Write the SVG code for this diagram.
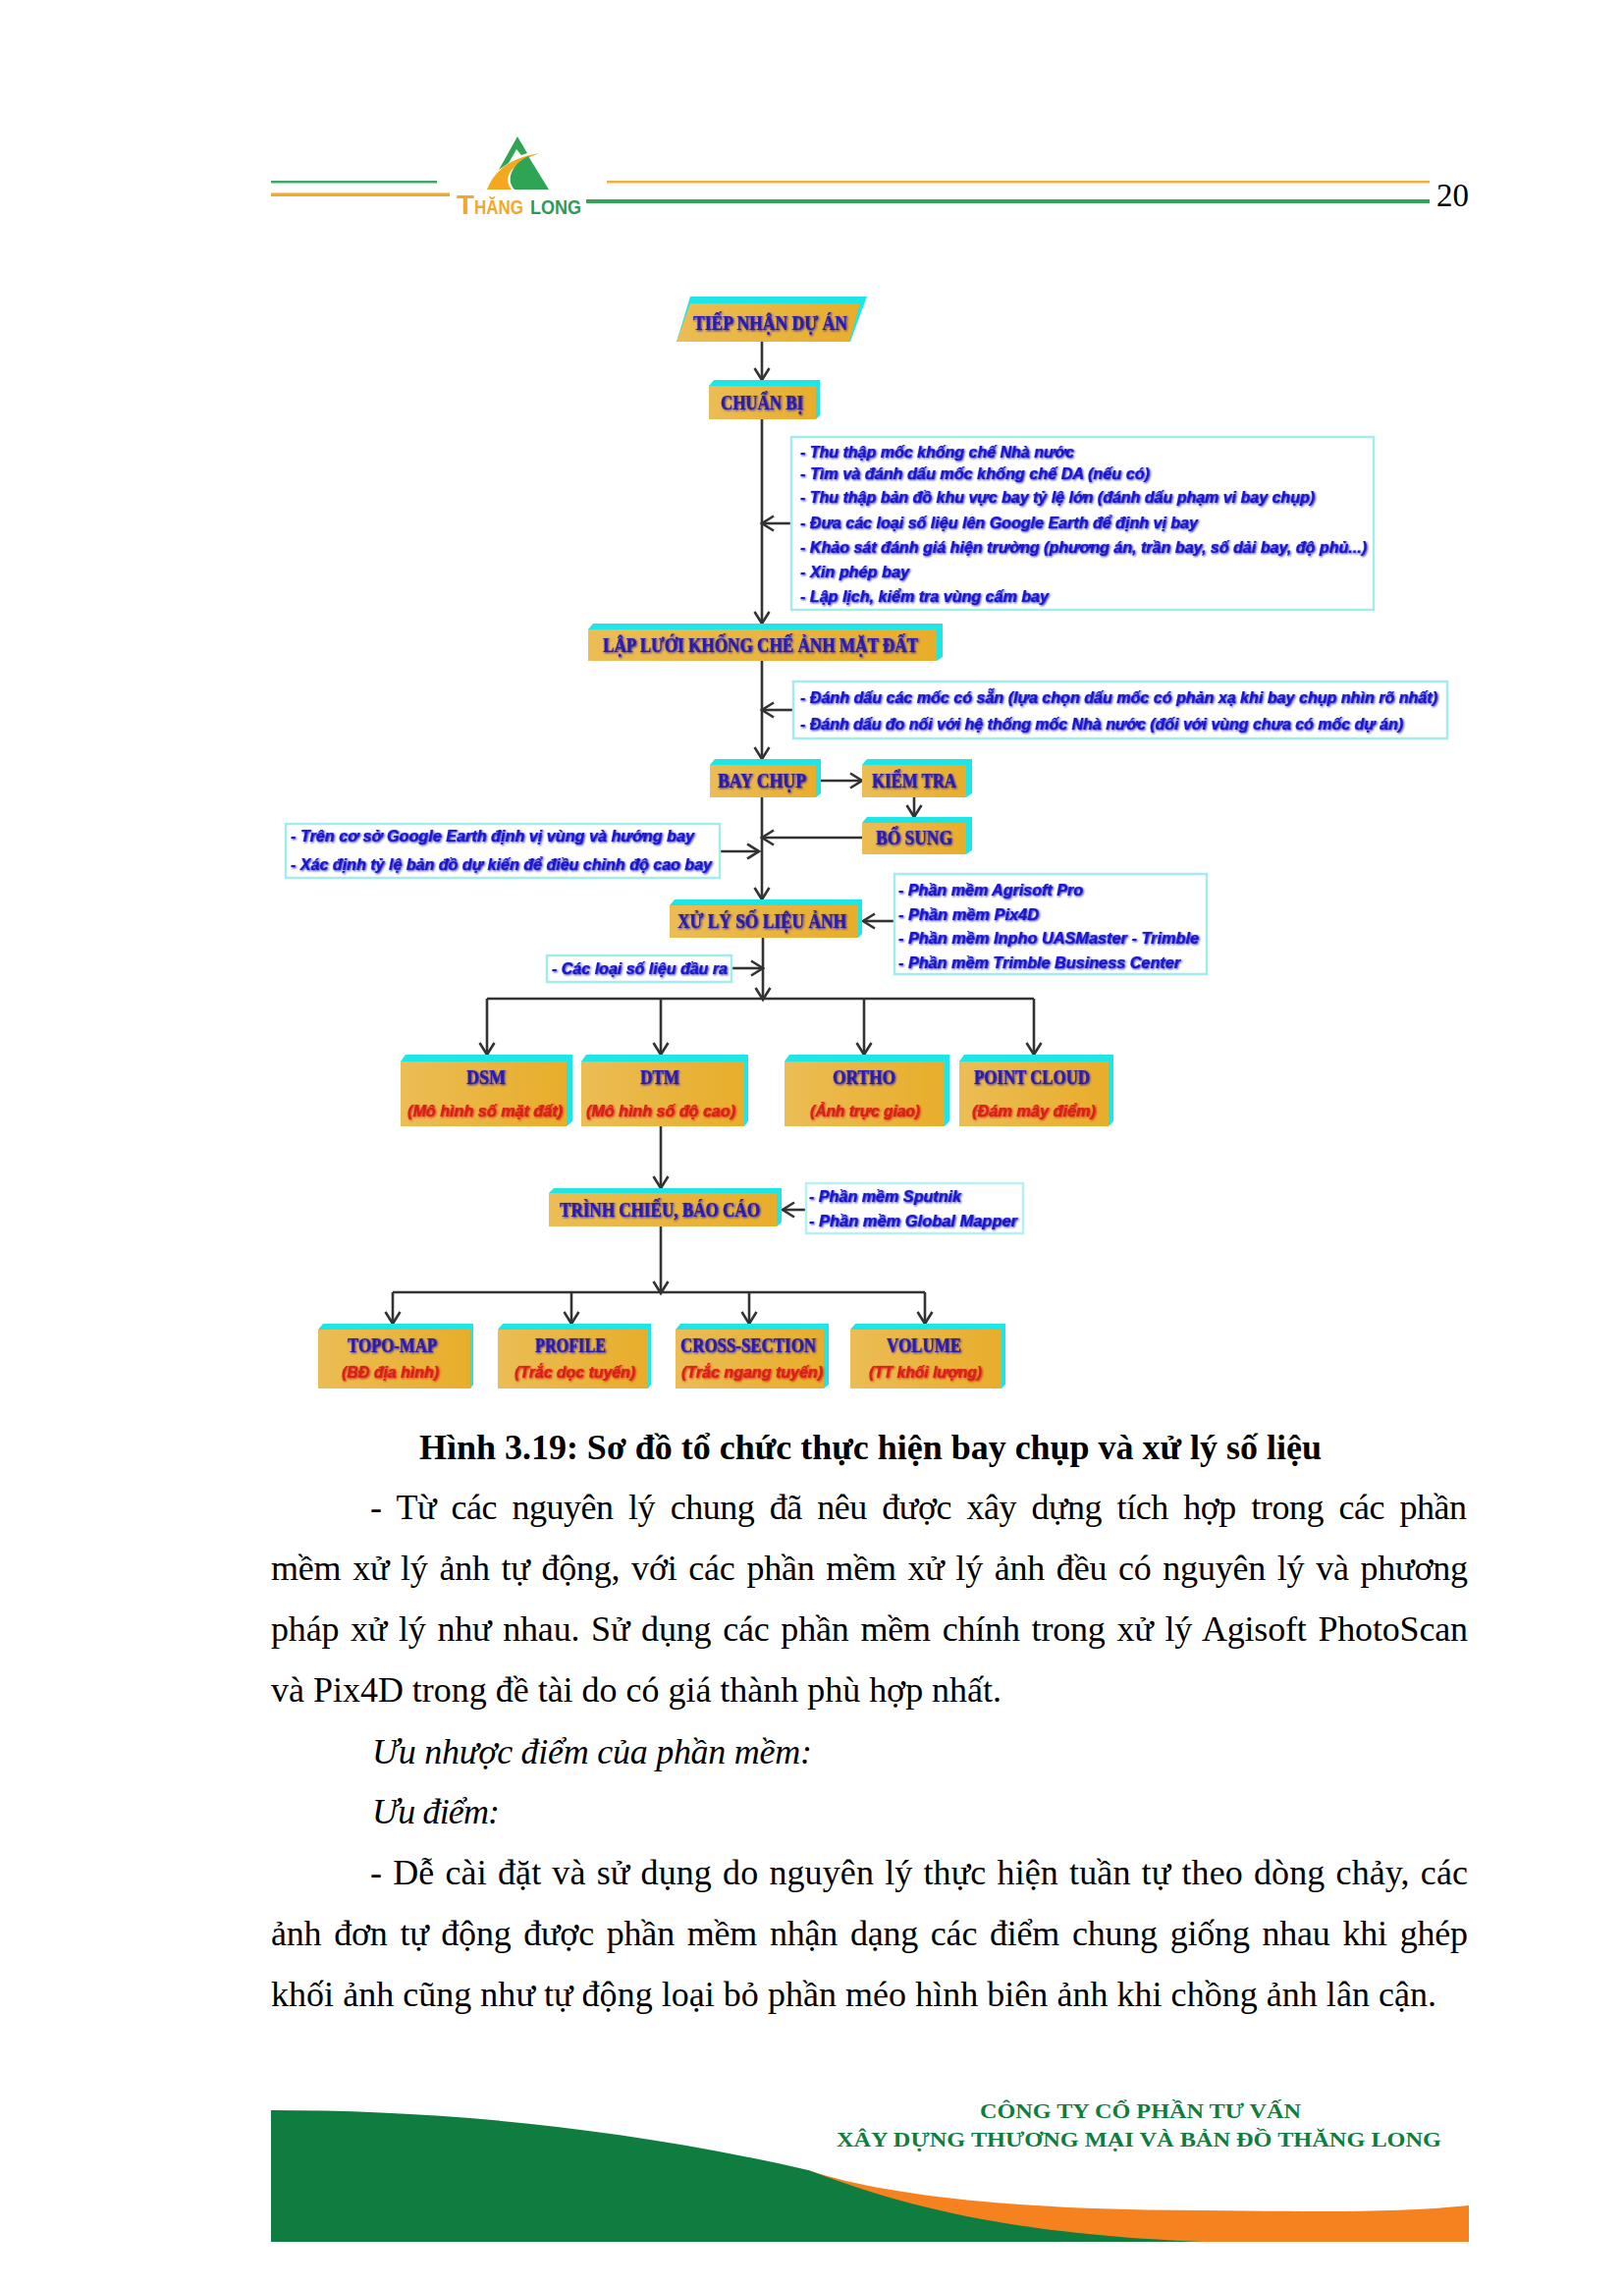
<svg xmlns="http://www.w3.org/2000/svg" width="1654" height="2328" viewBox="0 0 1654 2328">
<defs>
<style>
.c{fill:#1fe6e6}
.n{fill:url(#gold)}
.b{fill:#fff;stroke:#a4ecec;stroke-width:2.5}
.t{font:bold 21px "Liberation Serif",serif;fill:#2a1cb0;stroke:#2a1cb0;stroke-width:.2;filter:url(#soft)}
.r{font:italic bold 16.5px "Liberation Sans",sans-serif;fill:#d8201c;stroke:#d8201c;stroke-width:.2;filter:url(#soft)}
.l{font:italic bold 16.5px "Liberation Sans",sans-serif;fill:#1a18c8;stroke:#1a18c8;stroke-width:.2;filter:url(#soft)}
.k path,.k line{fill:none;stroke:#333;stroke-width:2.6}
.a{marker-end:url(#arr)}
.p{font:36px "Liberation Serif",serif;fill:#000}
.pb{font:bold 36px "Liberation Serif",serif;fill:#000}
.pi{font:italic 36px "Liberation Serif",serif;fill:#000}
.f{font:bold 22px "Liberation Serif",serif;fill:#0f7d3f}
.g{font:bold 20px "Liberation Sans",sans-serif}
</style>
<linearGradient id="gold" x1="0" x2="1" y1="0" y2="0"><stop offset="0" stop-color="#ebbd55"/><stop offset="1" stop-color="#e8ad2a"/></linearGradient>
<filter id="soft" x="-5%" y="-30%" width="110%" height="160%"><feGaussianBlur in="SourceGraphic" stdDeviation="1" result="s"/><feOffset in="s" dx="1" dy="1" result="o"/><feGaussianBlur in="SourceGraphic" stdDeviation="0.5" result="m"/><feMerge><feMergeNode in="o"/><feMergeNode in="m"/></feMerge></filter>
<marker id="arr" markerUnits="userSpaceOnUse" markerWidth="24" markerHeight="24" refX="17" refY="11" orient="auto" overflow="visible"><path d="M5,3.5 L17,11 L5,18.5" fill="none" stroke="#333" stroke-width="2.6"/></marker>
</defs>
<rect width="1654" height="2328" fill="#fff"/>

<g id="header">
<rect x="276" y="184" width="169" height="2.5" fill="#3fa868"/>
<rect x="276" y="196.5" width="182" height="3.5" fill="#efa92b"/>
<rect x="618" y="184" width="838" height="2.5" fill="#efb040"/>
<rect x="597" y="203" width="859" height="4" fill="#2fa455"/>
<path d="M527,139 L537,156 L531,158 L526,152 L518,166 L508,173 Z" fill="#2fa455"/>
<path d="M549,156 C525,160 505,170 496,193 L521,193 C512,182 518,168 549,156 Z" fill="#f2a91f"/>
<path d="M538,159 L559,193 L524,193 C515,184 520,168 538,159 Z" fill="#2fa455"/>
<text class="g" x="465" y="218" style="font-size:28px" fill="#efa92b" textLength="18" lengthAdjust="spacingAndGlyphs">T</text>
<text class="g" x="483" y="218" fill="#efa92b" textLength="50" lengthAdjust="spacingAndGlyphs">HĂNG</text>
<text class="g" x="540" y="218" fill="#2f9a58" textLength="52" lengthAdjust="spacingAndGlyphs">LONG</text>
<text x="1463" y="210" font-family="Liberation Serif,serif" font-size="33" fill="#000" textLength="33">20</text>
</g>

<g id="connectors" class="k">
<line x1="776" y1="348" x2="776" y2="387" class="a"/>
<line x1="776" y1="427" x2="776" y2="635" class="a"/>
<line x1="805" y1="533" x2="776" y2="533" class="a"/>
<line x1="776" y1="673" x2="776" y2="773" class="a"/>
<line x1="807" y1="723" x2="776" y2="723" class="a"/>
<line x1="836" y1="795" x2="878" y2="795" class="a"/>
<line x1="931" y1="812" x2="931" y2="832" class="a"/>
<line x1="878" y1="853" x2="776" y2="853" class="a"/>
<line x1="776" y1="812" x2="776" y2="916" class="a"/>
<line x1="733" y1="867" x2="773" y2="867" class="a"/>
<line x1="911" y1="938" x2="879" y2="938" class="a"/>
<line x1="777" y1="955" x2="777" y2="1018" class="a"/>
<line x1="745" y1="986" x2="777" y2="986" class="a"/>
<path d="M496,1017 H1053"/>
<line x1="496" y1="1017" x2="496" y2="1074" class="a"/>
<line x1="673" y1="1017" x2="673" y2="1074" class="a"/>
<line x1="880" y1="1017" x2="880" y2="1074" class="a"/>
<line x1="1053" y1="1017" x2="1053" y2="1074" class="a"/>
<line x1="673" y1="1147" x2="673" y2="1210" class="a"/>
<line x1="820" y1="1232" x2="797" y2="1232" class="a"/>
<line x1="673" y1="1249" x2="673" y2="1317" class="a"/>
<path d="M400,1316 H942"/>
<line x1="400" y1="1316" x2="400" y2="1348" class="a"/>
<line x1="582" y1="1316" x2="582" y2="1348" class="a"/>
<line x1="763" y1="1316" x2="763" y2="1348" class="a"/>
<line x1="942" y1="1316" x2="942" y2="1348" class="a"/>
</g>

<g id="n-tiep-nhan"><path class="c" d="M689,348 L703,302 H883 L866,348 Z"/><path class="n" d="M689,348 L703,309 H876 L865,348 Z"/><text class="t" x="706" y="336" textLength="157" lengthAdjust="spacingAndGlyphs">TIẾP NHẬN DỰ ÁN</text></g>
<g id="n-chuan-bi"><path class="c" d="M722,393 L727,387 H835 V423 L831,427 H722 Z"/><rect class="n" x="722" y="393" width="109" height="34"/><text class="t" x="734" y="417" textLength="84" lengthAdjust="spacingAndGlyphs">CHUẨN BỊ</text></g>
<g id="n-lap-luoi"><path class="c" d="M599,641 L604,635 H960 V669 L954,673 H599 Z"/><rect class="n" x="599" y="641" width="355" height="32"/><text class="t" x="614" y="664" textLength="321" lengthAdjust="spacingAndGlyphs">LẬP LƯỚI KHỐNG CHẾ ẢNH MẶT ĐẤT</text></g>
<g id="n-bay-chup"><path class="c" d="M723,779 L728,773 H836 V808 L831,812 H723 Z"/><rect class="n" x="723" y="779" width="108" height="33"/><text class="t" x="731" y="802" textLength="90" lengthAdjust="spacingAndGlyphs">BAY CHỤP</text></g>
<g id="n-kiem-tra"><path class="c" d="M878,779 L883,773 H990 V808 L984,812 H878 Z"/><rect class="n" x="878" y="779" width="106" height="33"/><text class="t" x="888" y="802" textLength="86" lengthAdjust="spacingAndGlyphs">KIỂM TRA</text></g>
<g id="n-bo-sung"><path class="c" d="M878,838 L883,832 H990 V866 L984,870 H878 Z"/><rect class="n" x="878" y="838" width="106" height="32"/><text class="t" x="892" y="860" textLength="78" lengthAdjust="spacingAndGlyphs">BỔ SUNG</text></g>
<g id="n-xu-ly"><path class="c" d="M682,922 L687,916 H878 V951 L874,955 H682 Z"/><rect class="n" x="682" y="922" width="192" height="33"/><text class="t" x="690" y="945" textLength="172" lengthAdjust="spacingAndGlyphs">XỬ LÝ SỐ LIỆU ẢNH</text></g>

<g id="b-chuan-bi"><rect class="b" x="806" y="445" width="593" height="176"/>
<text class="l" x="815" y="466" textLength="279" lengthAdjust="spacingAndGlyphs">- Thu thập mốc khống chế Nhà nước</text>
<text class="l" x="815" y="488" textLength="356" lengthAdjust="spacingAndGlyphs">- Tìm và đánh dấu mốc khống chế DA (nếu có)</text>
<text class="l" x="815" y="512" textLength="524" lengthAdjust="spacingAndGlyphs">- Thu thập bản đồ khu vực bay tỷ lệ lớn (đánh dấu phạm vi bay chụp)</text>
<text class="l" x="815" y="538" textLength="405" lengthAdjust="spacingAndGlyphs">- Đưa các loại số liệu lên Google Earth để định vị bay</text>
<text class="l" x="815" y="563" textLength="577" lengthAdjust="spacingAndGlyphs">- Khảo sát đánh giá hiện trường (phương án, trần bay, số dải bay, độ phủ...)</text>
<text class="l" x="815" y="588" textLength="111" lengthAdjust="spacingAndGlyphs">- Xin phép bay</text>
<text class="l" x="815" y="613" textLength="253" lengthAdjust="spacingAndGlyphs">- Lập lịch, kiểm tra vùng cấm bay</text></g>
<g id="b-lap-luoi"><rect class="b" x="808" y="694" width="666" height="58"/>
<text class="l" x="815" y="716" textLength="649" lengthAdjust="spacingAndGlyphs">- Đánh dấu các mốc có sẵn (lựa chọn dấu mốc có phản xạ khi bay chụp nhìn rõ nhất)</text>
<text class="l" x="815" y="743" textLength="614" lengthAdjust="spacingAndGlyphs">- Đánh dấu đo nối với hệ thống mốc Nhà nước (đối với vùng chưa có mốc dự án)</text></g>
<g id="b-google"><rect class="b" x="291" y="839" width="442" height="55"/>
<text class="l" x="296" y="857" textLength="411" lengthAdjust="spacingAndGlyphs">- Trên cơ sở  Google Earth định vị vùng và hướng bay</text>
<text class="l" x="296" y="886" textLength="429" lengthAdjust="spacingAndGlyphs">- Xác định tỷ lệ bản đồ dự kiến để điều chỉnh độ cao bay</text></g>
<g id="b-phan-mem"><rect class="b" x="911" y="890" width="318" height="102"/>
<text class="l" x="915" y="912" textLength="188" lengthAdjust="spacingAndGlyphs">- Phần mềm Agrisoft Pro</text>
<text class="l" x="915" y="937" textLength="143" lengthAdjust="spacingAndGlyphs">- Phần mềm Pix4D</text>
<text class="l" x="915" y="961" textLength="306" lengthAdjust="spacingAndGlyphs">- Phần mềm Inpho UASMaster - Trimble</text>
<text class="l" x="915" y="986" textLength="287" lengthAdjust="spacingAndGlyphs">- Phần mềm Trimble Business Center</text></g>
<g id="b-dau-ra"><rect class="b" x="557" y="973" width="188" height="27"/><text class="l" x="562" y="992" textLength="179" lengthAdjust="spacingAndGlyphs">- Các loại số liệu đầu ra</text></g>

<g id="n-dsm"><path class="c" d="M408,1081 L413,1074 H583 V1142 L577,1147 H408 Z"/><rect class="n" x="408" y="1081" width="169" height="66"/><text class="t" x="475" y="1104" textLength="40" lengthAdjust="spacingAndGlyphs">DSM</text><text class="r" x="415" y="1137" textLength="158" lengthAdjust="spacingAndGlyphs">(Mô hình số mặt đất)</text></g>
<g id="n-dtm"><path class="c" d="M592,1081 L597,1074 H762 V1142 L758,1147 H592 Z"/><rect class="n" x="592" y="1081" width="166" height="66"/><text class="t" x="652" y="1104" textLength="40" lengthAdjust="spacingAndGlyphs">DTM</text><text class="r" x="597" y="1137" textLength="152" lengthAdjust="spacingAndGlyphs">(Mô hình số độ cao)</text></g>
<g id="n-ortho"><path class="c" d="M799,1081 L804,1074 H967 V1142 L962,1147 H799 Z"/><rect class="n" x="799" y="1081" width="163" height="66"/><text class="t" x="848" y="1104" textLength="64" lengthAdjust="spacingAndGlyphs">ORTHO</text><text class="r" x="825" y="1137" textLength="112" lengthAdjust="spacingAndGlyphs">(Ảnh trực giao)</text></g>
<g id="n-point"><path class="c" d="M977,1081 L982,1074 H1134 V1142 L1129,1147 H977 Z"/><rect class="n" x="977" y="1081" width="152" height="66"/><text class="t" x="992" y="1104" textLength="118" lengthAdjust="spacingAndGlyphs">POINT CLOUD</text><text class="r" x="990" y="1137" textLength="126" lengthAdjust="spacingAndGlyphs">(Đám mây điểm)</text></g>

<g id="n-trinh-chieu"><path class="c" d="M559,1215 L564,1210 H796 V1245 L791,1249 H559 Z"/><rect class="n" x="559" y="1215" width="232" height="34"/><text class="t" x="570" y="1239" textLength="204" lengthAdjust="spacingAndGlyphs">TRÌNH CHIẾU, BÁO CÁO</text></g>
<g id="b-trinh-chieu"><rect class="b" x="821" y="1205" width="221" height="51" stroke-opacity=".8"/>
<text class="l" x="824" y="1224" textLength="155" lengthAdjust="spacingAndGlyphs">- Phần mềm Sputnik</text>
<text class="l" x="824" y="1249" textLength="212" lengthAdjust="spacingAndGlyphs">- Phần mềm Global Mapper</text></g>

<g id="n-topo"><path class="c" d="M324,1354 L329,1348 H482 V1410 L479,1414 H324 Z"/><rect class="n" x="324" y="1354" width="155" height="60"/><text class="t" x="354" y="1377" textLength="91" lengthAdjust="spacingAndGlyphs">TOPO-MAP</text><text class="r" x="348" y="1403" textLength="99" lengthAdjust="spacingAndGlyphs">(BĐ địa hình)</text></g>
<g id="n-profile"><path class="c" d="M507,1354 L512,1348 H663 V1410 L660,1414 H507 Z"/><rect class="n" x="507" y="1354" width="153" height="60"/><text class="t" x="545" y="1377" textLength="72" lengthAdjust="spacingAndGlyphs">PROFILE</text><text class="r" x="524" y="1403" textLength="123" lengthAdjust="spacingAndGlyphs">(Trắc dọc tuyến)</text></g>
<g id="n-cross"><path class="c" d="M688,1354 L693,1348 H844 V1410 L839,1414 H688 Z"/><rect class="n" x="688" y="1354" width="151" height="60"/><text class="t" x="693" y="1377" textLength="138" lengthAdjust="spacingAndGlyphs">CROSS-SECTION</text><text class="r" x="694" y="1403" textLength="144" lengthAdjust="spacingAndGlyphs">(Trắc ngang tuyến)</text></g>
<g id="n-volume"><path class="c" d="M866,1354 L871,1348 H1024 V1410 L1020,1414 H866 Z"/><rect class="n" x="866" y="1354" width="154" height="60"/><text class="t" x="903" y="1377" textLength="76" lengthAdjust="spacingAndGlyphs">VOLUME</text><text class="r" x="885" y="1403" textLength="115" lengthAdjust="spacingAndGlyphs">(TT khối lượng)</text></g>

<g id="body">
<text class="pb" x="427" y="1486" textLength="919">Hình 3.19: Sơ đồ tổ chức thực hiện bay chụp và xử lý số liệu</text>
<text class="p" x="377" y="1547" word-spacing="7" textLength="1117">- Từ các nguyên lý chung đã nêu được xây dựng tích hợp trong các phần</text>
<text class="p" x="276" y="1609" word-spacing="3" textLength="1219">mềm xử lý ảnh tự động, với các phần mềm xử lý ảnh đều có nguyên lý và phương</text>
<text class="p" x="276" y="1671" word-spacing="3" textLength="1219">pháp xử lý như nhau. Sử dụng các phần mềm chính trong xử lý Agisoft PhotoScan</text>
<text class="p" x="276" y="1733" textLength="744">và Pix4D trong đề tài do có giá thành phù hợp nhất.</text>
<text class="pi" x="379" y="1796" textLength="448">Ưu nhược điểm của phần mềm:</text>
<text class="pi" x="379" y="1857" textLength="130">Ưu điểm:</text>
<text class="p" x="377" y="1919" word-spacing="2" textLength="1118">- Dễ cài đặt và sử dụng do nguyên lý thực hiện tuần tự theo dòng chảy, các</text>
<text class="p" x="276" y="1981" word-spacing="4" textLength="1219">ảnh đơn tự động được phần mềm nhận dạng các điểm chung giống nhau khi ghép</text>
<text class="p" x="276" y="2043" textLength="1187">khối ảnh cũng như tự động loại bỏ phần méo hình biên ảnh khi chồng ảnh lân cận.</text>
</g>

<g id="footer">
<path d="M823,2210 C900,2236 1040,2251 1225,2251 C1330,2252 1420,2254 1496,2246 V2283 H823 Z" fill="#f5821f"/>
<path d="M276,2149 C430,2149 620,2163 823,2210 C900,2238 1000,2274 1225,2283 H276 Z" fill="#0f7d3f"/>
<text class="f" x="998" y="2157" textLength="327" lengthAdjust="spacingAndGlyphs">CÔNG TY CỔ PHẦN TƯ VẤN</text>
<text class="f" x="852" y="2186" textLength="616" lengthAdjust="spacingAndGlyphs">XÂY DỰNG THƯƠNG MẠI VÀ BẢN ĐỒ THĂNG LONG</text>
</g>
</svg>
